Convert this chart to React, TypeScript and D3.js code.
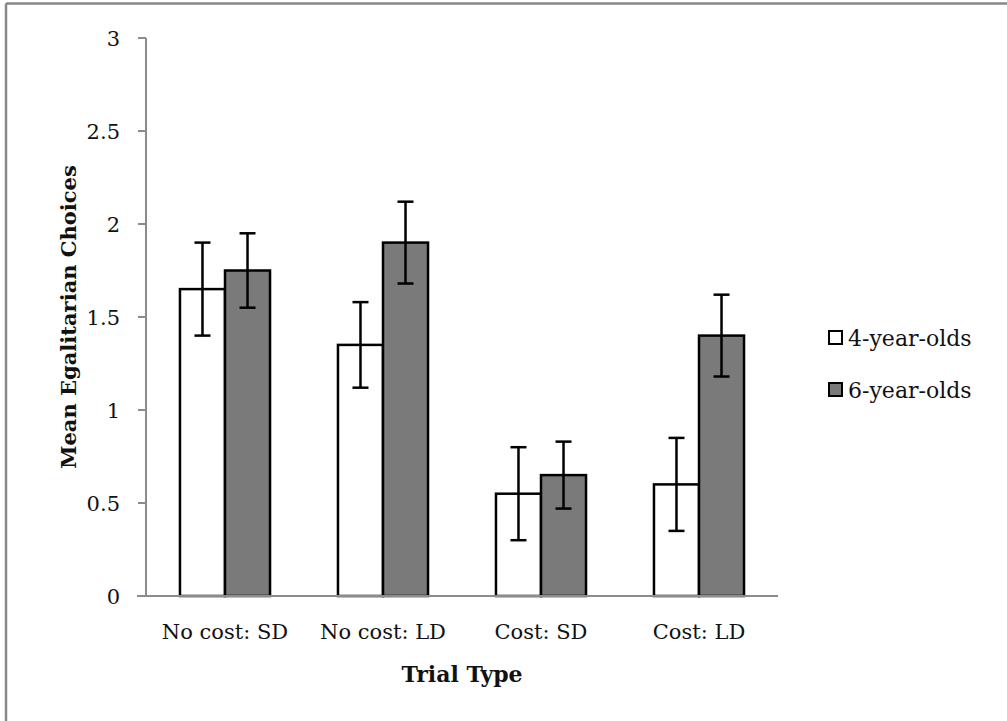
import React from 'react';
import * as d3 from 'd3';

// chart data
const categories = ['No cost: SD', 'No cost: LD', 'Cost: SD', 'Cost: LD'];
const seriesNames = ['4-year-olds', '6-year-olds'];
const fourYearMeans = [1.65, 1.35, 0.55, 0.6];
const fourYearErrors = [0.25, 0.23, 0.25, 0.25];
const sixYearMeans = [1.75, 1.9, 0.65, 1.4];
const sixYearErrors = [0.2, 0.22, 0.18, 0.22];
const yTicks = [0, 0.5, 1, 1.5, 2, 2.5, 3];

const width = 1007;
const height = 721;
const margin = { left: 146, right: 229, top: 38, bottom: 125 };
const fills = ['#ffffff', '#7a7a7a'];
const font = '"DejaVu Serif", serif';

const App = () => {
    const x = d3
        .scaleBand()
        .domain(categories)
        .range([margin.left, width - margin.right])
        .paddingInner(0)
        .paddingOuter(0);

    const y = d3
        .scaleLinear()
        .domain([0, 3])
        .range([height - margin.bottom, margin.top]);

    const barW = x.bandwidth() * 0.285;

    const series = [
        { name: seriesNames[0], means: fourYearMeans, errs: fourYearErrors },
        { name: seriesNames[1], means: sixYearMeans, errs: sixYearErrors },
    ];

    const sub = d3.scaleBand().domain(['0', '1']).range([0, barW * 2]);

    return (
        <svg width={width} height={height} style={{ position: 'absolute', left: 0, top: 0, background: '#fff' }}>
            {/* outer frame */}
            <line x1={6} x2={width} y1={3.5} y2={3.5} stroke="#888" strokeWidth={2.5} />
            <line x1={6} x2={6} y1={3.5} y2={height} stroke="#888" strokeWidth={2.5} />

            {/* y axis */}
            <line x1={margin.left} x2={margin.left} y1={y(3)} y2={y(0)} stroke="#8c8c8c" strokeWidth={2} />
            {yTicks.map((t) => (
                <g key={t}>
                    <line x1={margin.left - 8} x2={margin.left} y1={y(t)} y2={y(t)} stroke="#8c8c8c" strokeWidth={2} />
                    <text x={120} y={y(t)} dy="0.36em" textAnchor="end" fontFamily={font} fontSize={21} fill="#111">
                        {t}
                    </text>
                </g>
            ))}

            {/* bars */}
            {categories.map((c, i) => {
                const x0 = (x(c) as number) + x.bandwidth() / 2 - barW;
                return (
                    <g key={c}>
                        {series.map((s, j) => {
                            const bx = x0 + (sub(String(j)) as number);
                            const cx = bx + barW / 2;
                            const m = s.means[i];
                            const e = s.errs[i];
                            return (
                                <g key={s.name}>
                                    <rect
                                        x={bx}
                                        y={y(m)}
                                        width={barW}
                                        height={y(0) - y(m)}
                                        fill={fills[j]}
                                        stroke="#000"
                                        strokeWidth={2.5}
                                    />
                                    <line x1={cx} x2={cx} y1={y(m + e)} y2={y(m - e)} stroke="#000" strokeWidth={2.5} />
                                    <line x1={cx - 8} x2={cx + 8} y1={y(m + e)} y2={y(m + e)} stroke="#000" strokeWidth={2.5} />
                                    <line x1={cx - 8} x2={cx + 8} y1={y(m - e)} y2={y(m - e)} stroke="#000" strokeWidth={2.5} />
                                </g>
                            );
                        })}
                        <text
                            x={(x(c) as number) + x.bandwidth() / 2}
                            y={639}
                            textAnchor="middle"
                            fontFamily={font}
                            fontSize={21}
                            fill="#111"
                        >
                            {c}
                        </text>
                    </g>
                );
            })}

            {/* x axis */}
            <line x1={margin.left - 9} x2={width - margin.right} y1={y(0)} y2={y(0)} stroke="#8c8c8c" strokeWidth={2} />

            {/* axis titles */}
            <text
                x={(margin.left + width - margin.right) / 2}
                y={682}
                textAnchor="middle"
                fontFamily={font}
                fontWeight="bold"
                fontSize={22}
                fill="#111"
            >
                Trial Type
            </text>
            <text
                transform={`translate(76, ${(y(0) + y(3)) / 2}) rotate(-90)`}
                textAnchor="middle"
                fontFamily={font}
                fontWeight="bold"
                fontSize={21}
                fill="#111"
            >
                Mean Egalitarian Choices
            </text>

            {/* legend */}
            {series.map((s, j) => (
                <g key={s.name} transform={`translate(829, ${331 + j * 52})`}>
                    <rect x={0} y={0} width={13} height={13} fill={fills[j]} stroke="#000" strokeWidth={2} />
                    <text x={19} y={15} fontFamily={font} fontSize={22} fill="#111">
                        {s.name}
                    </text>
                </g>
            ))}
        </svg>
    );
};

export default App;
